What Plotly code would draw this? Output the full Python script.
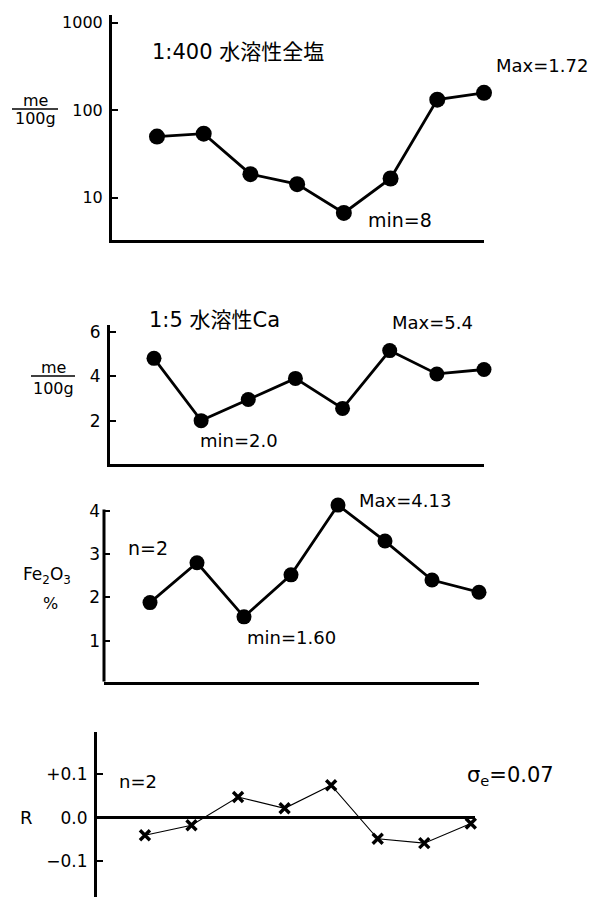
import plotly.graph_objects as go

W, H = 605, 899
# the page body adds an 8 px margin; compensate so page pixels match the reference
OFF = 8

# ---------------- data ----------------
samples = [1, 2, 3, 4, 5, 6, 7, 8]
salt_total = [50, 54, 18.6, 14.3, 6.7, 16.6, 132, 158]      # me/100g, 1:400 water soluble total salt
ca_soluble = [4.8, 2.0, 2.95, 3.9, 2.55, 5.15, 4.1, 4.3]    # me/100g, 1:5 water soluble Ca
fe2o3 = [1.88, 2.8, 1.55, 2.52, 4.13, 3.3, 2.4, 2.12]       # %
resid_r = [-0.04, -0.017, 0.048, 0.022, 0.075, -0.048, -0.058, -0.013]

salt_ticks = [10, 100, 1000]
salt_ticktext = ["10", "100", "1000"]
ca_ticks = [2, 4, 6]
fe_ticks = [1, 2, 3, 4]
r_ticks = [-0.1, 0.0, 0.1]
r_ticktext = ["\u22120.1", "0.0", "+0.1"]

FONT = "DejaVu Sans, Noto Sans CJK JP, sans-serif"


def px(x):
    return (x - OFF) / W


def py(y):
    return 1 - (y - OFF) / H


fig = go.Figure()

line_style = dict(color="black", width=2.8)
fig.add_trace(go.Scatter(x=samples, y=salt_total, mode="lines+markers",
                         line=line_style, marker=dict(size=16, color="black"),
                         xaxis="x", yaxis="y", cliponaxis=False, showlegend=False))
fig.add_trace(go.Scatter(x=samples, y=ca_soluble, mode="lines+markers",
                         line=line_style, marker=dict(size=15, color="black"),
                         xaxis="x2", yaxis="y2", cliponaxis=False, showlegend=False))
fig.add_trace(go.Scatter(x=samples, y=fe2o3, mode="lines+markers",
                         line=line_style, marker=dict(size=15, color="black"),
                         xaxis="x3", yaxis="y3", cliponaxis=False, showlegend=False))
fig.add_trace(go.Scatter(x=samples, y=resid_r, mode="lines+markers",
                         line=dict(color="black", width=1.1),
                         marker=dict(size=10, color="black", symbol="x-thin",
                                     line=dict(width=3.4, color="black")),
                         xaxis="x4", yaxis="y4", cliponaxis=False, showlegend=False))


def xax(domain, rng, anchor, showline=True):
    return dict(domain=domain, range=rng, anchor=anchor, showline=showline,
                linecolor="black", linewidth=3, showticklabels=False,
                ticks="", showgrid=False, zeroline=False, fixedrange=True,
                automargin=False)


def yax(domain, rng, anchor, tickvals, ticktext=None, typ="linear",
        zeroline=False, showline=True, fsize=16):
    d = dict(domain=domain, range=rng, anchor=anchor, showline=showline,
             linecolor="black", linewidth=3, ticks="inside", ticklen=6,
             tickwidth=2, tickcolor="black", tickvals=tickvals,
             showgrid=False, zeroline=zeroline,
             tickfont=dict(family=FONT, size=fsize, color="black"),
             type=typ, fixedrange=True, ticklabelstandoff=3, automargin=False)
    if ticktext is not None:
        d["ticktext"] = ticktext
    if zeroline:
        d.update(zerolinecolor="black", zerolinewidth=3)
    return d


fe_top = 4.2
fig.update_layout(
    width=W, height=H,
    margin=dict(l=0, r=0, t=0, b=0, autoexpand=False),
    paper_bgcolor="white", plot_bgcolor="white",
    font=dict(family=FONT, size=16, color="black"),
    xaxis=xax([px(112), px(484)], [0.037, 8.0], "y"),
    yaxis=yax([py(240), py(15)], [0.517, 3.088], "x", salt_ticks, salt_ticktext,
              typ="log", fsize=16),
    xaxis2=xax([px(110), px(484)], [0.067, 8.0], "y2"),
    yaxis2=yax([py(464), py(325)], [0.05, 6.3], "x2", ca_ticks, fsize=17),
    xaxis3=xax([px(104), px(479)], [0.021, 8.0], "y3"),
    yaxis3=yax([py(681.7), py(681.7 - (fe_top - 0.054) * 43.33)], [0.054, fe_top], "x3",
               fe_ticks, showline=False, fsize=17),
    xaxis4=xax([px(97), px(475)], [-0.03, 8.09], "y4", showline=False),
    yaxis4=yax([py(896.7), py(731.7)], [-0.181, 0.198], "x4", r_ticks, r_ticktext,
               zeroline=True, fsize=17),
)

# visible vertical axis line of the Fe2O3 panel (stops at the 4 tick like the original)
fig.add_shape(type="line", xref="x3 domain", yref="y3", x0=0, x1=0, y0=0.054, y1=4.03,
              line=dict(color="black", width=3))

annots = [
    # panel 1
    ("1:400 水溶性全塩", 150, 52, "left", 21),
    ("Max=1.72", 494, 66, "left", 18),
    ("min=8", 366, 220, "left", 19),
    ("me", 35, 101, "center", 16),
    ("100g", 35, 118, "center", 16),
    # panel 2
    ("1:5 水溶性Ca", 147, 320, "left", 21),
    ("Max=5.4", 390, 323, "left", 18),
    ("min=2.0", 198, 441, "left", 18),
    ("me", 53, 367, "center", 16),
    ("100g", 53, 388, "center", 16),
    # panel 3
    ("Max=4.13", 357, 500, "left", 18),
    ("n=2", 126, 548, "left", 19),
    ("min=1.60", 245, 637, "left", 18),
    ("Fe<sub>2</sub>O<sub>3</sub>", 47, 575, "center", 17),
    ("%", 50, 603, "center", 16),
    # panel 4
    ("n=2", 117, 781, "left", 18),
    ("σ<sub>e</sub>=0.07", 465, 776, "left", 21),
    ("R", 26, 817, "center", 18),
]
for text, x, y, anchor, size in annots:
    fig.add_annotation(text=text, x=px(x), y=py(y), xref="paper", yref="paper",
                       xanchor=anchor, yanchor="middle", showarrow=False,
                       font=dict(family=FONT, size=size, color="black"))

# fraction bars of the unit labels
for x0, x1, y in [(12, 58, 109), (31, 75, 376)]:
    fig.add_shape(type="line", xref="paper", yref="paper",
                  x0=px(x0), x1=px(x1), y0=py(y), y1=py(y),
                  line=dict(color="black", width=1.5))

fig.write_html("out.html")
